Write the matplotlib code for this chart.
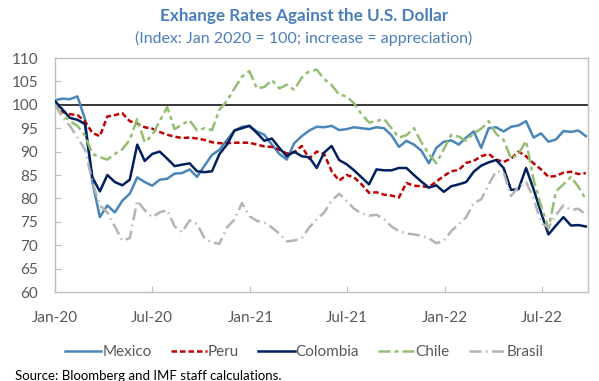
import matplotlib
matplotlib.use("Agg")
import matplotlib.pyplot as plt
import pandas as pd

plt.rcParams['font.family'] = ['Lato', 'DejaVu Sans']

dates = pd.date_range("2020-01-01", periods=72, freq="14D")

mexico = [101.0, 101.3, 101.2, 101.8, 97.0, 83.5, 76.0, 78.5, 77.0, 79.5,
          81.0, 84.5, 83.5, 82.7, 84.0, 84.2, 85.3, 85.4, 86.2, 84.6,
          87.0, 89.3, 90.4, 92.5, 94.5, 95.3, 95.5, 94.3, 93.6, 91.5,
          89.5, 88.3, 91.8, 93.3, 94.5, 95.3, 95.2, 95.5, 94.6, 94.8,
          95.2, 95.0, 94.8, 95.2, 95.0, 93.5, 91.0, 92.3, 91.5, 90.2,
          87.5, 90.8, 92.1, 92.4, 91.5, 93.0, 94.3, 90.8, 95.0, 95.2,
          94.3, 95.3, 95.6, 96.5, 93.0, 93.9, 92.1, 92.6, 94.4, 94.2,
          94.5, 93.3]

peru = [100.0, 98.5, 98.0, 97.8, 96.5, 94.0, 93.3, 97.5, 97.8, 98.2,
        96.5, 96.0, 95.2, 94.9, 94.2, 93.6, 93.2, 92.9, 93.0, 92.8,
        92.5, 92.0, 91.8, 91.8, 91.9, 91.9, 91.9, 91.5, 91.1, 91.0,
        90.4, 89.6, 89.8, 91.2, 88.5, 90.0, 89.5, 85.8, 83.8, 85.0,
        84.5, 83.0, 81.2, 81.3, 80.8, 80.6, 80.2, 83.3, 82.7, 82.6,
        82.4, 83.6, 84.8, 85.8, 86.1, 87.6, 88.0, 89.0, 89.5, 88.3,
        87.8, 88.5, 90.0, 89.0, 87.5, 86.2, 84.6, 84.8, 85.5, 85.7,
        85.2, 85.4]

colombia = [100.8, 99.0, 97.2, 96.8, 95.9, 84.5, 81.5, 85.0, 83.5, 82.8,
            84.0, 91.5, 88.0, 89.5, 90.0, 88.5, 86.9, 87.2, 87.5, 85.8,
            85.6, 85.8, 89.5, 91.5, 94.5, 95.0, 95.5, 94.0, 92.3, 92.8,
            90.8, 89.0, 90.0, 89.0, 88.8, 86.5, 89.8, 91.2, 88.2, 87.3,
            86.0, 84.5, 83.0, 86.2, 86.0, 86.0, 86.5, 86.5, 85.0, 83.6,
            82.3, 82.8, 81.4, 82.6, 83.0, 83.5, 85.7, 87.0, 87.7, 88.2,
            86.5, 81.8, 82.0, 86.5, 82.0, 77.0, 72.3, 74.2, 76.0, 74.2,
            74.3, 74.0]

chile = [100.0, 97.8, 96.5, 95.5, 93.5, 89.5, 88.8, 88.3, 89.5, 90.5,
         92.5, 97.0, 92.0, 93.5, 96.5, 99.5, 94.8, 95.8, 96.7, 94.5,
         95.0, 94.6, 99.0, 100.8, 103.5, 106.0, 107.2, 103.5, 103.8, 105.3,
         103.5, 104.3, 103.2, 105.8, 107.2, 107.5, 105.5, 104.2, 102.2, 101.8,
         100.3, 98.0, 96.2, 96.5, 97.0, 95.0, 93.0, 93.5, 95.0, 92.0,
         89.5, 87.5, 90.5, 93.6, 93.2, 92.3, 93.9, 94.9, 96.5, 93.8,
         92.5, 88.5, 89.5, 92.3, 84.0, 78.5, 73.5, 81.5, 83.0, 84.6,
         82.5, 79.8]

brasil = [100.0, 97.3, 95.5, 93.0, 90.5, 83.5, 78.5, 77.0, 74.0, 71.0,
          71.5, 79.5, 77.5, 76.0, 77.0, 77.5, 74.0, 72.8, 75.3, 74.5,
          71.5, 70.6, 70.3, 73.8, 75.5, 79.0, 76.2, 75.2, 74.8, 73.8,
          72.5, 70.8, 71.0, 71.5, 73.8, 75.5, 77.0, 79.5, 81.0, 79.5,
          77.8, 76.8, 76.3, 76.5, 75.6, 74.0, 73.0, 72.5, 72.3, 72.0,
          71.5, 70.4, 71.0, 73.0, 74.5, 76.0, 79.0, 79.8, 83.0, 85.8,
          85.5, 80.5, 82.5, 83.5, 80.0, 74.8, 73.8, 76.5, 78.5, 77.5,
          77.8, 76.5]

tick_dates = ["2020-01-01", "2020-07-01", "2021-01-01", "2021-07-01", "2022-01-01", "2022-07-01"]
tick_labels = ["Jan-20", "Jul-20", "Jan-21", "Jul-21", "Jan-22", "Jul-22"]
yticks = list(range(60, 111, 5))

title = "Exhange Rates Against the U.S. Dollar"
subtitle = "(Index: Jan 2020 = 100; increase = appreciation)"
source = "Source: Bloomberg and IMF staff calculations."

fig = plt.figure(figsize=(5.99, 3.81), dpi=100)
ax = fig.add_axes([55/599, 1-292/381, (588-55)/599, (292-58)/381])

lw = 1.8
ax.axhline(100, color="black", lw=1.1, zorder=1)
ax.plot(dates, mexico, color="#4A86B8", lw=lw, label="Mexico", zorder=2)
ax.plot(dates, peru, color="#C00000", lw=lw, dashes=(2.2, 1.2), label="Peru", zorder=3)
ax.plot(dates, colombia, color="#002060", lw=lw, label="Colombia", zorder=4)
ax.plot(dates, chile, color="#93BF72", lw=lw, dashes=(4.8, 1.6, 1.6, 1.6), label="Chile", zorder=5)
ax.plot(dates, brasil, color="#B4B4B4", lw=lw, dashes=(4.8, 1.8, 0.6, 1.8), label="Brasil", zorder=6)

ax.set_xlim(pd.Timestamp("2020-01-01"), pd.Timestamp("2022-09-25"))
ax.set_ylim(60, 110)
ax.set_yticks(yticks)
ax.set_xticks([pd.Timestamp(d) for d in tick_dates])
ax.set_xticklabels(tick_labels)

label_color = "#595959"
ax.tick_params(axis="y", direction="in", length=4, width=0.8, color="#BFBFBF",
               labelsize=11, labelcolor=label_color, pad=12)
ax.tick_params(axis="x", direction="in", length=4, width=0.8, color="#BFBFBF",
               labelsize=11, labelcolor=label_color, pad=14)
for s in ax.spines.values():
    s.set_color("#BFBFBF")
    s.set_linewidth(1.0)

fig.text(304.5/599, 1-16/381, title, ha="center", va="center", fontsize=12.3,
         fontweight="bold", color="#4A7EBB")
fig.text(303.5/599, 1-38/381, subtitle, ha="center", va="center", fontsize=11.5,
         color="#4A7EBB")

leg = fig.legend(loc="center", bbox_to_anchor=(304/599, 1-352/381), ncol=5, frameon=False,
                 fontsize=11, handlelength=2.4, handletextpad=0.05, columnspacing=1.25,
                 labelcolor=label_color)

fig.text(15/599, 1-376/381, source, ha="left", va="center", fontsize=9.5, color="black")

fig.savefig("out.png", dpi=100)
